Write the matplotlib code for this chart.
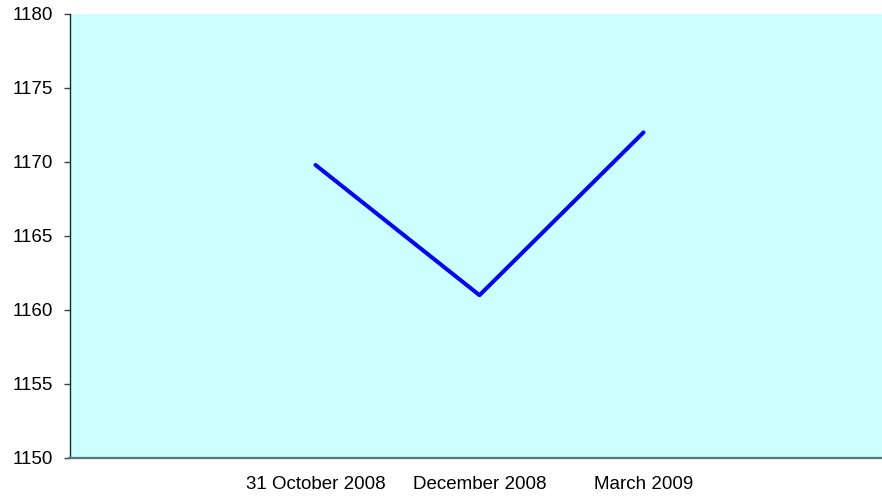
import matplotlib
matplotlib.use("Agg")
import matplotlib.pyplot as plt

plt.rcParams["font.family"] = ["Liberation Sans", "DejaVu Sans"]

# categories on the x axis (first and last slots are empty)
categories = ["", "31 October 2008", "December 2008", "March 2009", ""]
values = [1169.8, 1161.0, 1172.0]
value_pos = [1, 2, 3]
yticks = [1150, 1155, 1160, 1165, 1170, 1175, 1180]

fig = plt.figure(figsize=(8.82, 4.96), dpi=100)
# plot area runs a little past the right edge of the picture
ax = fig.add_axes([69.5 / 882, 1 - 458 / 496, (889.5 - 69.5) / 882, (458 - 14) / 496])
ax.set_facecolor("#CCFFFF")

ax.plot(value_pos, values, color="#0000FF", linewidth=2.9, solid_capstyle="round")

ax.set_xlim(-0.5, len(categories) - 0.5)
ax.set_xticks(range(len(categories)))
ax.set_xticklabels(categories, fontsize=13.5)
ax.tick_params(axis="x", length=0, pad=13)

ax.set_ylim(1150, 1180)
ax.set_yticks(yticks)
ax.set_yticklabels([str(t) for t in yticks], fontsize=13.5)
ax.tick_params(axis="y", length=4.5, width=1, color="#404040", pad=7.5)

ax.spines["top"].set_visible(False)
ax.spines["right"].set_visible(False)
ax.spines["left"].set_color("#1a2a2a")
ax.spines["left"].set_linewidth(1)
ax.spines["bottom"].set_color("#5a7878")
ax.spines["bottom"].set_linewidth(1.6)

fig.savefig("out.png", dpi=100)
